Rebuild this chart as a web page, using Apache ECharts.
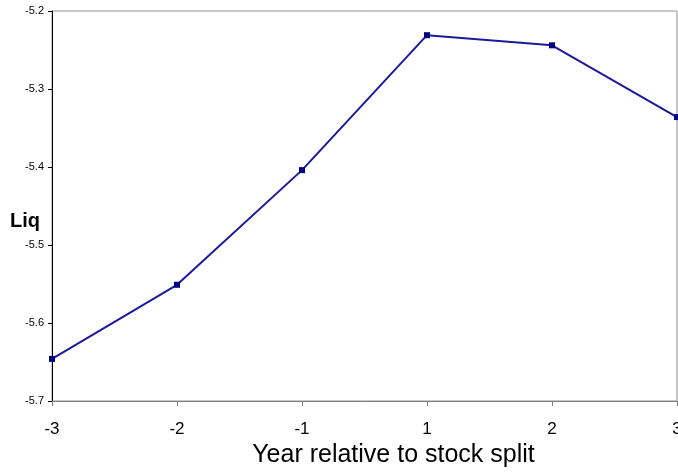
<!DOCTYPE html>
<html><head><meta charset="utf-8">
<script src="https://cdn.jsdelivr.net/npm/echarts@6/dist/echarts.min.js"></script>
<style>html,body{margin:0;padding:0;background:#fff}#c{width:678px;height:472px}</style>
</head><body><div id="c"></div>
<script>
const categories = ['-3','-2','-1','1','2','3'];
const liqValues = [-5.646, -5.551, -5.404, -5.231, -5.244, -5.336];
const yTicks = [-5.7, -5.6, -5.5, -5.4, -5.3, -5.2];
const yTitle = 'Liq';
const xTitle = 'Year relative to stock split';

const chart = echarts.init(document.getElementById('c'), null, {renderer:'canvas'});
chart.setOption({
  animation: false,
  backgroundColor: '#fff',
  grid: {left: 52, right: 1, top: 11, bottom: 71, show: true, borderColor: '#909090', borderWidth: 1,
         containLabel: false, outerBoundsMode: 'none'},
  graphic: [{
    type: 'text', left: 10, top: 211,
    style: {text: yTitle, font: 'bold 20px "Liberation Sans"', fill: '#000'}
  }],
  xAxis: {
    type: 'category', data: categories, boundaryGap: false,
    name: xTitle, nameLocation: 'middle', nameGap: 38,
    nameTextStyle: {fontFamily: 'Liberation Sans', fontSize: 25, color: '#000', padding: [0, 0, 0, 58]},
    axisLine: {lineStyle: {color: '#808080', width: 1}},
    axisTick: {show: true, alignWithLabel: true, length: 5, lineStyle: {color: '#808080'}},
    axisLabel: {fontFamily: 'Liberation Sans', fontSize: 17, color: '#000', margin: 20},
    splitLine: {show: false}
  },
  yAxis: {
    type: 'value', min: yTicks[0], max: yTicks[yTicks.length-1], interval: 0.1,
    axisLine: {show: true, lineStyle: {color: '#000', width: 1}},
    axisTick: {show: true, length: 4, lineStyle: {color: '#000'}},
    axisLabel: {fontFamily: 'Liberation Sans', fontSize: 11, color: '#000', margin: 8,
      formatter: v => v.toFixed(1)},
    splitLine: {show: false}
  },
  series: [{
    type: 'line', data: liqValues, symbol: 'rect', symbolSize: 6,
    lineStyle: {color: '#1a1a9a', width: 2},
    itemStyle: {color: '#000080'},
    clip: false
  }]
});
</script></body></html>
